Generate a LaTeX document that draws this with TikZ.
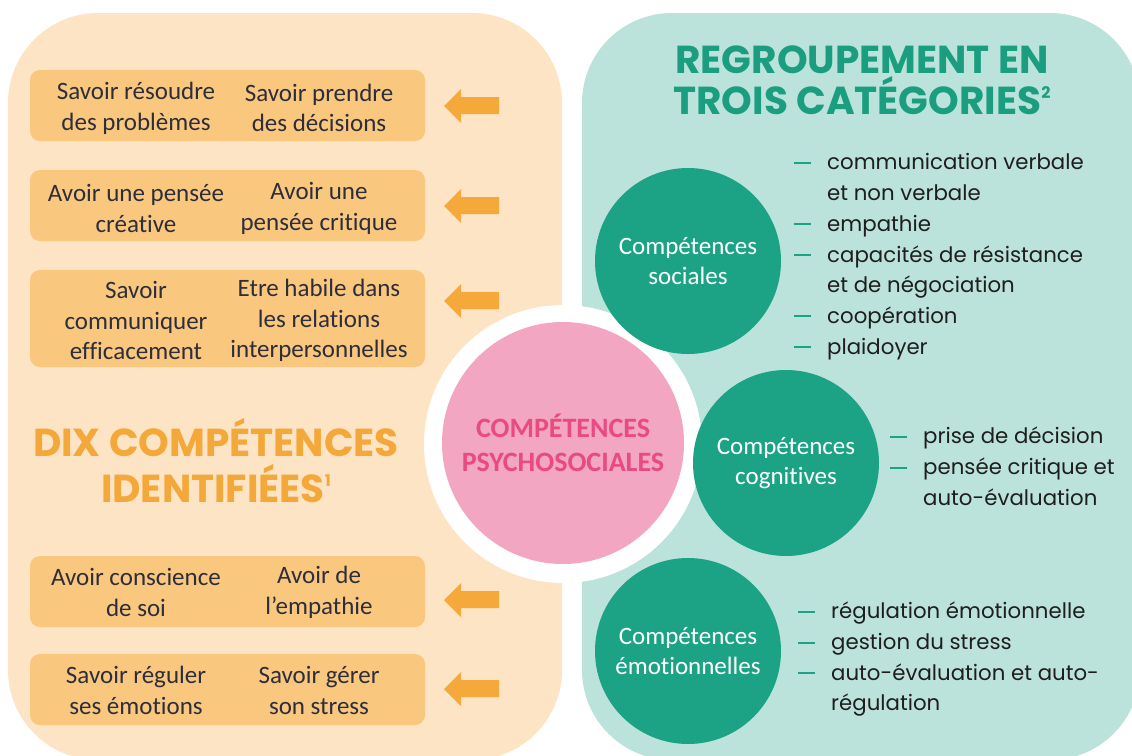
\documentclass[tikz,border=0pt]{standalone}
\usepackage{fontspec}
\setmainfont[Ligatures=NoCommon]{Carlito}
\newfontfamily\listfont{Poppins}
\newfontfamily\titlefont{Poppins}
\definecolor{leftbg}{HTML}{FCE4C4}
\definecolor{boxfill}{HTML}{F9C77E}
\definecolor{arrowc}{HTML}{F5A93B}
\definecolor{rightbg}{HTML}{BBE3DB}
\definecolor{tealc}{HTML}{1CA386}
\definecolor{tealtitle}{HTML}{1B9E80}
\definecolor{orangetitle}{HTML}{F5A83A}
\definecolor{pinkfill}{HTML}{F2A6C1}
\definecolor{pinktext}{HTML}{E94A7F}
\definecolor{darktext}{HTML}{2E2E3A}
\definecolor{listtext}{HTML}{1E1E1E}
\newcommand{\dsh}{\makebox[33pt][l]{\textcolor{tealc}{\rule[6pt]{17pt}{2pt}}}}
\newcommand{\cnt}{\makebox[33pt]{}}
\newcommand{\supnum}[1]{\raisebox{16pt}{\fontsize{16pt}{16pt}\selectfont #1}}
\tikzset{
  panel/.style={rounded corners=90pt},
  skillbox/.style={fill=boxfill, rounded corners=10pt},
  boxtext/.style={align=center, text=darktext, inner sep=0pt,
    font=\fontsize{25pt}{30.5pt}\selectfont},
  catcircle/.style={circle, fill=tealc, minimum size=186pt, inner sep=0pt,
    align=center, text=white, font=\fontsize{25pt}{30pt}\selectfont},
  listnode/.style={align=left, anchor=north west, inner sep=0pt, text=listtext,
    font=\listfont\fontsize{21.3pt}{30.7pt}\selectfont},
  arrowshape/.style={fill=arrowc},
  titletext/.style={align=center, inner sep=0pt,
    font=\titlefont\bfseries\fontsize{39pt}{41pt}\selectfont},
}
\begin{document}
\begin{tikzpicture}[x=1pt, y=-1pt]
\useasboundingbox (0,0) rectangle (1132,755);
\clip (0,0) rectangle (1132,755);
% panels
\fill[leftbg, panel] (8,13) rectangle (562,760);
\fill[rightbg, panel] (582,13) rectangle (1140,760);
% left boxes
\foreach \t/\b in {70/141, 170/241, 270/367, 556/627, 654/725}{
  \fill[skillbox] (30,\t) rectangle (425,\b);
}
\node[boxtext] (b1l) at (136,108.5) {Savoir résoudre\\des problèmes};
\node[boxtext] (b1r) at (319,108) {Savoir prendre\\des décisions};
\node[boxtext] (b2l) at (136,208.5) {Avoir une pensée\\créative};
\node[boxtext] (b2r) at (319,208.5) {Avoir une\\pensée critique};
\node[boxtext] (b3l) at (136,320.5) {Savoir\\communiquer\\efficacement};
\node[boxtext] (b3r) at (319,320.5) {Etre habile dans\\les relations\\interpersonnelles};
\node[boxtext] (b4l) at (136,592.5) {Avoir conscience\\de soi};
\node[boxtext] (b4r) at (319,592.5) {Avoir de\\l’empathie};
\node[boxtext] (b5l) at (136,690.5) {Savoir réguler\\ses émotions};
\node[boxtext] (b5r) at (319,690.5) {Savoir gérer\\son stress};
% arrows
\foreach \c in {106,206,301,600,689}{
  \fill[arrowshape] (444,\c) -- (461,\c-17) -- (461,\c-9) -- (499,\c-9) -- (499,\c+8) -- (461,\c+8) -- (461,\c+17) -- cycle;
}
% left title
\node[titletext, text=orangetitle, font=\titlefont\bfseries\fontsize{39pt}{46pt}\selectfont] (lt) at (216,461)
  {DIX COMPÉTENCES\\IDENTIFIÉES\supnum{1}};
% right title
\node[titletext, text=tealtitle] (rt) at (862,80)
  {REGROUPEMENT EN\\TROIS CATÉGORIES\supnum{2}};
% central circle
\fill[white] (563,444) circle (139);
\node[circle, fill=pinkfill, minimum size=242pt, inner sep=0pt, align=center,
  text=pinktext, font=\bfseries\fontsize{28pt}{34pt}\selectfont] (cps) at (563,443)
  {COMPÉTENCES\\PSYCHOSOCIALES};
% category circles
\node[catcircle] (soc) at (688,261) {Compétences\\sociales};
\node[catcircle] (cog) at (786,463) {Compétences\\cognitives};
\node[catcircle] (emo) at (688,651) {Compétences\\émotionnelles};
% lists
\node[listnode] (lsoc) at (794,153.5) {\dsh communication verbale\\
\cnt et non verbale\\
\dsh empathie\\
\dsh capacités de résistance\\
\cnt et de négociation\\
\dsh coopération\\
\dsh plaidoyer};
\node[listnode] (lcog) at (890,427) {\dsh prise de décision\\
\dsh pensée critique et\\
\cnt auto-évaluation};
\node[listnode] (lemo) at (798,602) {\dsh régulation émotionnelle\\
\dsh gestion du stress\\
\dsh auto-évaluation et auto-\\
\cnt régulation};
\end{tikzpicture}
\end{document}
